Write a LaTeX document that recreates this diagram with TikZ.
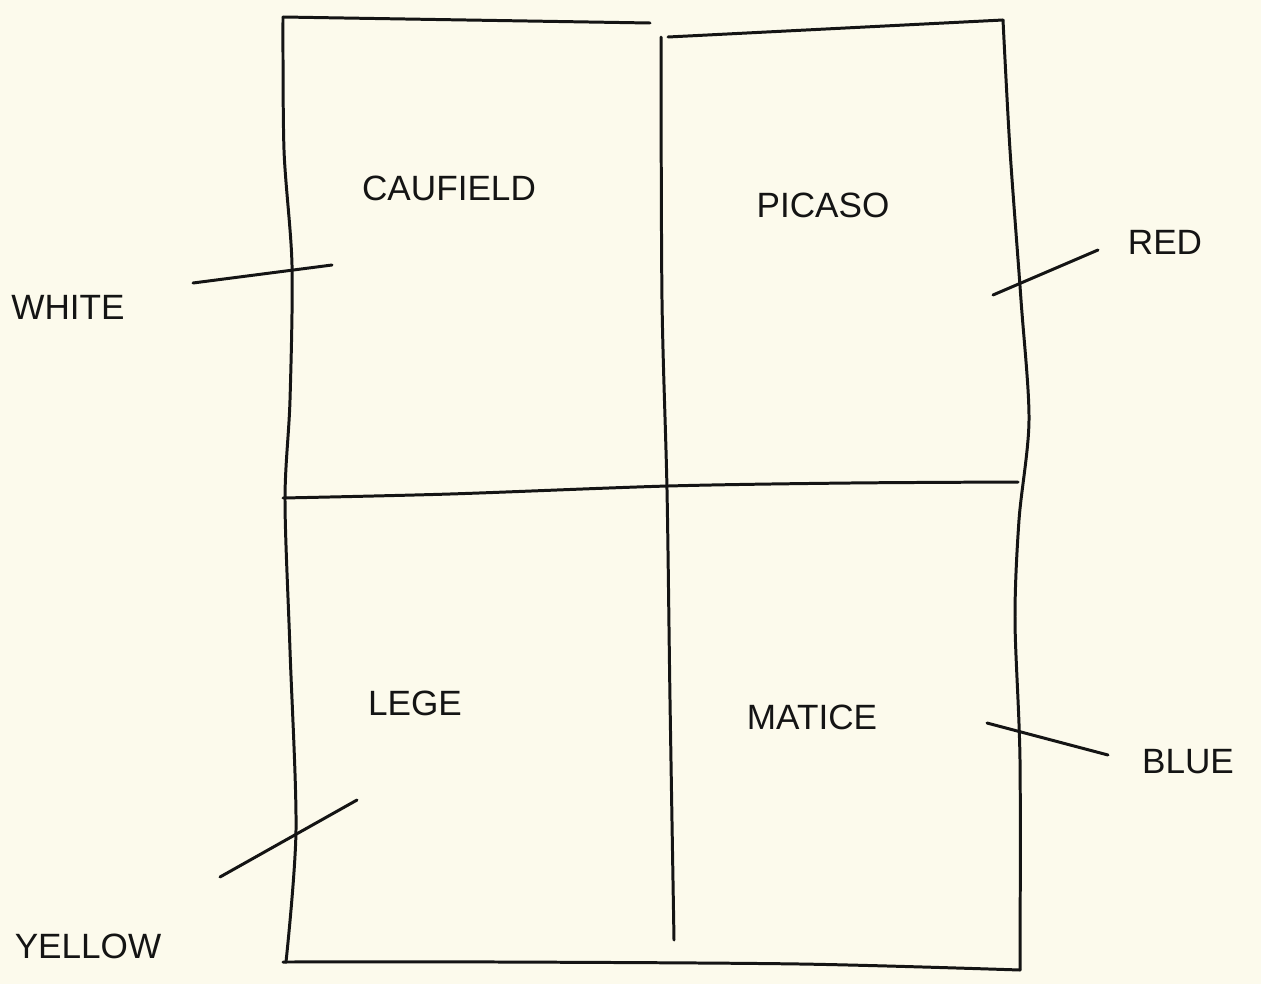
\documentclass[tikz,border=0pt]{standalone}
\usepackage{fontspec}
\setmainfont{Liberation Sans}
\definecolor{paper}{RGB}{252,250,236}
\definecolor{ink}{RGB}{20,20,20}
\begin{document}
\begin{tikzpicture}[x=0.02cm,y=-0.02cm,
  pen/.style={draw=ink,line width=1.7pt,line cap=round,line join=round},
  lbl/.style={text=ink,font=\fontsize{20}{24}\selectfont,inner sep=0pt}]
\fill[paper] (0,0) rectangle (1261,984);
\useasboundingbox (0,0) rectangle (1261,984);
% frame
\draw[pen] plot[smooth] coordinates {(283,17) (284,150) (292,265) (290,400) (285,500) (290,650) (296,830) (286,962)};
\draw[pen] (283,17) -- (650,23);
\draw[pen] (668,37) -- (1003,20);
\draw[pen] plot[smooth] coordinates {(661,37) (662,300) (667,490) (670,700) (674,940)};
\draw[pen] plot[smooth] coordinates {(1003,20) (1010,150) (1021,300) (1029,420) (1019,520) (1015,620) (1020,760) (1020,970)};
\draw[pen] plot[smooth] coordinates {(283,498) (450,494) (668,486) (850,483) (1018,482)};
\draw[pen] plot[smooth] coordinates {(283,962) (500,962) (800,964) (1020,970)};
% labels
\node[lbl] (caufield) at (449,188) {CAUFIELD};
\node[lbl] (picaso) at (823,205) {PICASO};
\node[lbl] (lege) at (415,703) {LEGE};
\node[lbl] (matice) at (812,717) {MATICE};
\node[lbl] (white) at (68,307) {WHITE};
\node[lbl] (red) at (1165,242) {RED};
\node[lbl] (blue) at (1188,762) {BLUE};
\node[lbl] (yellow) at (88,946) {YELLOW};
% pointers
\coordinate (w1) at (193,283); \coordinate (w2) at (332,265);
\coordinate (r1) at (993,295); \coordinate (r2) at (1098,250);
\coordinate (y1) at (220,877); \coordinate (y2) at (357,800);
\coordinate (b1) at (987,723); \coordinate (b2) at (1108,755);
\draw[pen] (w1) -- (w2);
\draw[pen] (r1) -- (r2);
\draw[pen] (y1) -- (y2);
\draw[pen] (b1) -- (b2);
\end{tikzpicture}
\end{document}
